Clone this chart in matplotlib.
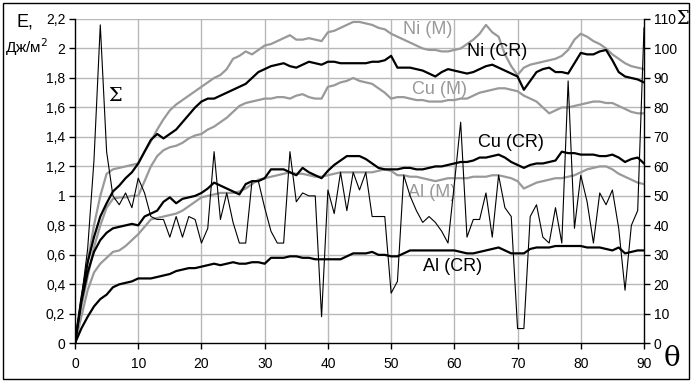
import matplotlib
matplotlib.use("Agg")
import matplotlib.pyplot as plt
from matplotlib.ticker import FuncFormatter
from matplotlib.patches import Rectangle

plt.rcParams['font.family'] = ['Liberation Sans', 'DejaVu Sans']

theta = list(range(0, 91))

ni_m = [0, 0.3, 0.55, 0.8, 1.0, 1.15, 1.18, 1.19, 1.2, 1.21, 1.22,
        1.3, 1.37, 1.45, 1.52, 1.58, 1.62, 1.65, 1.68, 1.71, 1.74,
        1.77, 1.8, 1.82, 1.86, 1.93, 1.95, 1.98, 1.96, 1.99, 2.02,
        2.03, 2.05, 2.07, 2.09, 2.06, 2.06, 2.07, 2.06, 2.05, 2.11,
        2.12, 2.14, 2.16, 2.18, 2.18, 2.17, 2.16, 2.14, 2.13, 2.1,
        2.08, 2.06, 2.04, 2.02, 2.0, 1.99, 1.99, 1.98, 1.98, 1.99,
        2.0, 2.03, 2.06, 2.1, 2.16, 2.11, 2.08, 1.96, 1.88, 1.82,
        1.87, 1.89, 1.9, 1.91, 1.92, 1.93, 1.95, 1.99, 2.06, 2.1,
        2.08, 2.05, 2.03, 2.0, 1.96, 1.93, 1.9, 1.88, 1.87, 1.86]

ni_cr = [0, 0.3, 0.55, 0.72, 0.86, 0.95, 1.03, 1.07, 1.12, 1.16, 1.22,
         1.3, 1.38, 1.42, 1.39, 1.42, 1.45, 1.5, 1.55, 1.6, 1.64,
         1.66, 1.66, 1.68, 1.7, 1.72, 1.74, 1.76, 1.8, 1.84, 1.86,
         1.88, 1.89, 1.9, 1.88, 1.87, 1.89, 1.91, 1.9, 1.89, 1.91,
         1.91, 1.9, 1.9, 1.9, 1.9, 1.9, 1.91, 1.91, 1.92, 1.95,
         1.87, 1.87, 1.87, 1.86, 1.85, 1.83, 1.81, 1.84, 1.86, 1.85,
         1.84, 1.83, 1.84, 1.86, 1.88, 1.89, 1.87, 1.85, 1.83, 1.81,
         1.72, 1.78, 1.84, 1.86, 1.87, 1.84, 1.84, 1.83, 1.9, 1.97,
         1.96, 1.96, 1.98, 1.99, 1.92, 1.84, 1.81, 1.8, 1.79, 1.77]

cu_m = [0, 0.25, 0.45, 0.65, 0.8, 0.92, 0.98, 0.99, 0.99, 1.0, 1.0,
        1.1, 1.2, 1.27, 1.31, 1.33, 1.34, 1.36, 1.39, 1.41, 1.42,
        1.45, 1.47, 1.5, 1.53, 1.57, 1.61, 1.63, 1.64, 1.65, 1.66,
        1.66, 1.67, 1.67, 1.66, 1.68, 1.69, 1.67, 1.66, 1.66, 1.74,
        1.75, 1.77, 1.78, 1.8, 1.78, 1.77, 1.76, 1.73, 1.7, 1.66,
        1.67, 1.67, 1.66, 1.65, 1.65, 1.64, 1.64, 1.64, 1.65, 1.65,
        1.66, 1.66, 1.68, 1.7, 1.71, 1.72, 1.73, 1.73, 1.72, 1.71,
        1.68, 1.66, 1.64, 1.6, 1.56, 1.58, 1.6, 1.6, 1.61, 1.62,
        1.63, 1.64, 1.64, 1.63, 1.63, 1.61, 1.59, 1.57, 1.56, 1.56]

cu_cr = [0, 0.28, 0.48, 0.62, 0.7, 0.75, 0.78, 0.79, 0.8, 0.81, 0.8,
         0.86, 0.88, 0.9, 0.96, 0.99, 0.95, 0.98, 0.99, 1.0, 1.02,
         1.05, 1.09, 1.07, 1.05, 1.03, 1.01, 1.08, 1.1, 1.1, 1.12,
         1.18, 1.18, 1.18, 1.16, 1.14, 1.19, 1.16, 1.14, 1.12, 1.17,
         1.21, 1.24, 1.27, 1.27, 1.27, 1.25, 1.22, 1.19, 1.18, 1.18,
         1.18, 1.19, 1.19, 1.18, 1.18, 1.19, 1.2, 1.2, 1.21, 1.22,
         1.23, 1.23, 1.24, 1.26, 1.26, 1.27, 1.28, 1.26, 1.23, 1.21,
         1.19, 1.21, 1.22, 1.22, 1.23, 1.24, 1.3, 1.29, 1.29, 1.28,
         1.28, 1.28, 1.27, 1.27, 1.28, 1.26, 1.23, 1.25, 1.26, 1.22]

al_m = [0, 0.18, 0.36, 0.48, 0.54, 0.58, 0.62, 0.63, 0.66, 0.7, 0.74,
        0.79, 0.84, 0.85, 0.86, 0.87, 0.88, 0.9, 0.93, 0.96, 0.99,
        1.0, 1.01, 1.02, 1.02, 1.02, 1.03, 1.05, 1.08, 1.11, 1.12,
        1.13, 1.14, 1.15, 1.16, 1.15, 1.15, 1.14, 1.13, 1.13, 1.14,
        1.15, 1.16, 1.16, 1.16, 1.16, 1.16, 1.16, 1.17, 1.18, 1.17,
        1.14, 1.14, 1.13, 1.13, 1.12, 1.11, 1.1, 1.11, 1.12, 1.12,
        1.12, 1.12, 1.13, 1.13, 1.13, 1.14, 1.14, 1.13, 1.12, 1.1,
        1.05, 1.07, 1.09, 1.1, 1.11, 1.12, 1.12, 1.13, 1.14, 1.16,
        1.18, 1.19, 1.2, 1.2, 1.18, 1.15, 1.13, 1.11, 1.09, 1.08]

al_cr = [0, 0.1, 0.18, 0.25, 0.3, 0.33, 0.38, 0.4, 0.41, 0.42, 0.44,
         0.44, 0.44, 0.45, 0.46, 0.47, 0.49, 0.5, 0.51, 0.51, 0.52,
         0.53, 0.54, 0.53, 0.54, 0.55, 0.54, 0.54, 0.55, 0.55, 0.54,
         0.58, 0.58, 0.58, 0.59, 0.59, 0.58, 0.58, 0.57, 0.57, 0.57,
         0.57, 0.57, 0.59, 0.61, 0.61, 0.61, 0.62, 0.6, 0.6, 0.59,
         0.59, 0.61, 0.63, 0.63, 0.63, 0.63, 0.63, 0.63, 0.63, 0.63,
         0.62, 0.61, 0.61, 0.62, 0.63, 0.64, 0.65, 0.63, 0.61, 0.61,
         0.61, 0.64, 0.65, 0.65, 0.65, 0.66, 0.66, 0.66, 0.66, 0.66,
         0.65, 0.65, 0.65, 0.64, 0.63, 0.65, 0.61, 0.62, 0.63, 0.63]

sigma = [0, 15, 32, 62, 108, 65, 50, 47, 51, 46, 56,
         51, 43, 42, 42, 36, 43, 36, 43, 42, 34,
         39, 65, 42, 51, 41, 34, 34, 55, 55, 46,
         38, 34, 34, 65, 48, 51, 50, 50, 9, 52,
         44, 58, 45, 58, 52, 58, 43, 43, 43, 17,
         21, 57, 50, 45, 41, 43, 41, 38, 34, 54,
         75, 36, 42, 42, 51, 36, 57, 46, 43, 5,
         5, 43, 47, 36, 34, 46, 34, 89, 39, 57,
         48, 34, 51, 47, 52, 39, 18, 40, 45, 107]

x_ticks = list(range(0, 91, 10))
left_ticks = [0, 0.2, 0.4, 0.6, 0.8, 1.0, 1.2, 1.4, 1.6, 1.8, 2.0, 2.2]
right_ticks = list(range(0, 111, 10))

GRAY = '#999999'
fig = plt.figure(figsize=(6.92, 3.81), dpi=100)
ax = fig.add_axes([75/692, 1-343.3/381, (644-75)/692, (343.3-19)/381])
ax2 = ax.twinx()

ax.set_xlim(0, 90)
ax.set_ylim(0, 2.2)
ax2.set_ylim(0, 110)

for y in left_ticks[1:]:
    ax.axhline(y, color='#b8b8b8', lw=1.0, zorder=0)
for xv in x_ticks[1:-1]:
    ax.axvline(xv, color='#b8b8b8', lw=1.0, zorder=0)

for s in (ni_m, cu_m, al_m):
    ax.plot(theta, s, color=GRAY, lw=1.6, zorder=2, solid_joinstyle='round')
for s in (ni_cr, cu_cr, al_cr):
    ax.plot(theta, s, color='black', lw=1.6, zorder=3, solid_joinstyle='round')
ax2.plot(theta, sigma, color='black', lw=0.8, zorder=4)

ax.set_xticks(x_ticks)
ax.set_yticks(left_ticks)
ax2.set_yticks(right_ticks)
fmt = FuncFormatter(lambda v, p: ('%g' % round(v, 1)).replace('.', ','))
ax.yaxis.set_major_formatter(fmt)
for a in (ax, ax2):
    a.tick_params(direction='out', length=4, width=1, labelsize=10, colors='black', pad=3)
ax.tick_params(axis='x', pad=6)

for a in (ax, ax2):
    a.spines['top'].set_visible(False)
    for sp in ('left', 'bottom', 'right'):
        a.spines[sp].set_linewidth(1.0)
ax.spines['right'].set_visible(False)
ax2.spines['left'].set_visible(False)
ax2.spines['bottom'].set_visible(False)

# axis captions
fig.text(17/692, 1-22/381, 'E,', fontsize=13, ha='left', va='center')
fig.text(5/692, 1-47/381, 'Дж/м$^2$', fontsize=11, ha='left', va='center')
fig.text(672/692, 1-358/381, 'θ', fontsize=20, ha='center', va='center', family='DejaVu Serif')
fig.text(683/692, 1-19/381, 'Σ', fontsize=13, ha='center', va='center', family='DejaVu Serif')
ax.text(5.2, 1.68, 'Σ', fontsize=14, ha='left', va='center', family='DejaVu Serif')

# series labels
ax.text(51.9, 2.13, 'Ni (M)', color=GRAY, fontsize=13, ha='left', va='center')
ax.text(62.0, 1.98, 'Ni (CR)', color='black', fontsize=13, ha='left', va='center')
ax.text(53.3, 1.72, 'Cu (M)', color=GRAY, fontsize=13, ha='left', va='center')
ax.text(63.7, 1.36, 'Cu (CR)', color='black', fontsize=13, ha='left', va='center')
ax.text(52.7, 1.02, 'Al (M)', color=GRAY, fontsize=13, ha='left', va='center')
ax.text(55.0, 0.52, 'Al (CR)', color='black', fontsize=13, ha='left', va='center')

fig.add_artist(Rectangle((2.5/692, 2.5/381), 686/692, 376/381, transform=fig.transFigure,
                         fill=False, edgecolor='black', lw=1.0))

fig.savefig('out.png', dpi=100)
